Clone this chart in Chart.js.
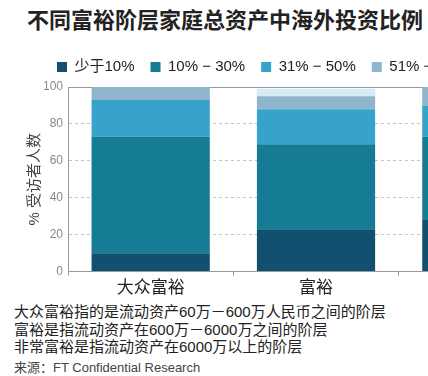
<!DOCTYPE html>
<html>
<head>
<meta charset="utf-8">
<script src="https://cdn.jsdelivr.net/npm/chart.js@4"></script>
<style>
  body { margin: 0; background: #fff; width: 428px; height: 376px; overflow: hidden; position: relative;
         font-family: "Liberation Sans", "Noto Sans CJK SC", sans-serif; }
  #title { position: absolute; left: 27px; top: 7px; font-size: 22px; font-weight: bold; color: #222;
           white-space: nowrap; line-height: 28px; }
  #box { position: absolute; left: 0; top: 40px; width: 600px; height: 263px; }
  #notes { position: absolute; left: 14px; top: 303px; font-size: 15px; line-height: 17.5px; color: #222; white-space: nowrap; }
  #source { font-size: 13px; color: #444; margin-top: 3px; }
</style>
</head>
<body>
<div id="title">不同富裕阶层家庭总资产中海外投资比例</div>
<div id="box"><canvas id="chart"></canvas></div>
<div id="notes">
  <div>大众富裕指的是流动资产60万－600万人民币之间的阶层</div>
  <div>富裕是指流动资产在600万－6000万之间的阶层</div>
  <div>非常富裕是指流动资产在6000万以上的阶层</div>
  <div id="source">来源：FT Confidential Research</div>
</div>
<script>
const categories = ["大众富裕", "富裕", "非常富裕"];
const seriesNames = ["少于10%", "10% − 30%", "31% − 50%", "51% − 75%", "76%以上"];
const under10 = [10, 23, 28];
const from10to30 = [63, 46, 45];
const from31to50 = [20, 19, 17];
const from51to75 = [7, 7, 10];
const over75 = [0, 4, 0];
const yTicks = [0, 20, 40, 60, 80, 100];

const colors = ["#12506f", "#167b94", "#37a2ca", "#8fb6cc", "#d4ecf4"];
const values = [under10, from10to30, from31to50, from51to75, over75];

Chart.defaults.font.family = '"Liberation Sans", "Noto Sans CJK SC", sans-serif';

// move the legend so it starts near the left and sits a bit higher, like the original
const legendShift = {
  id: "legendShift",
  afterLayout(chart) {
    chart.legend.left = 41;
    chart.legend.top = 3.5;
  }
};

new Chart(document.getElementById("chart"), {
  type: "bar",
  data: {
    labels: categories,
    datasets: seriesNames.map((name, i) => ({
      label: name,
      data: values[i],
      backgroundColor: colors[i],
      borderWidth: 0,
      categoryPercentage: 1,
      barPercentage: 0.715
    }))
  },
  options: {
    responsive: true,
    maintainAspectRatio: false,
    animation: false,
    layout: { padding: { top: 6, left: 23, right: 36, bottom: 1 } },
    plugins: {
      legend: {
        align: "start",
        labels: {
          boxWidth: 10,
          boxHeight: 10,
          padding: 16,
          color: "#222",
          font: { size: 15 },
          filter: item => item.datasetIndex < 4
        }
      },
      tooltip: { enabled: false }
    },
    scales: {
      x: {
        stacked: true,
        grid: { drawOnChartArea: false, color: "#999", tickLength: 4 },
        border: { color: "#999" },
        ticks: { color: "#222", font: { size: 17 }, padding: 3 }
      },
      y: {
        stacked: true,
        min: 0,
        max: 100,
        afterBuildTicks: axis => { axis.ticks = yTicks.map(v => ({ value: v })); },
        grid: {
          drawTicks: false,
          color: ctx => ctx.tick && ctx.tick.value === 100 ? "#999" : "#c4c4c4"
        },
        border: {
          color: "#999",
          dash: ctx => ctx.tick && ctx.tick.value === 100 ? [] : [3, 3]
        },
        ticks: { color: "#888", font: { size: 12 }, padding: 5 },
        title: {
          display: true,
          text: "% 受访者人数",
          color: "#444",
          font: { size: 15, lineHeight: 1 },
          padding: { top: 4.5, bottom: -4.5 }
        }
      }
    }
  },
  plugins: [legendShift]
});
</script>
</body>
</html>
